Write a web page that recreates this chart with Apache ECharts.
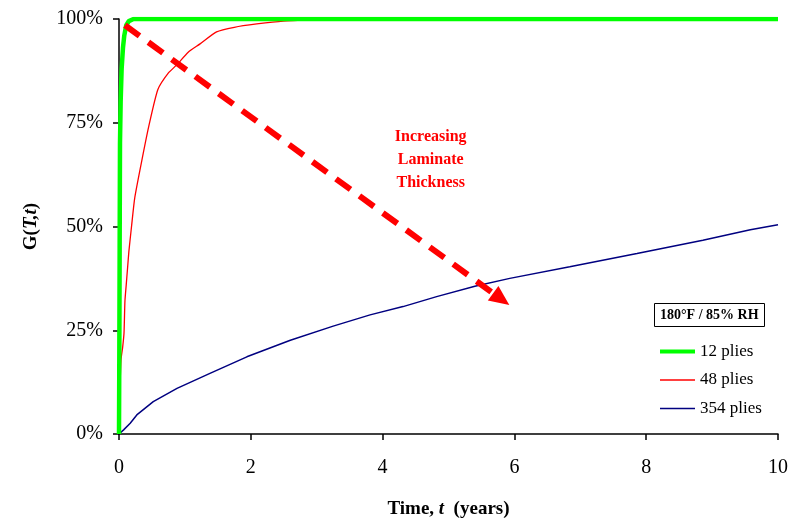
<!DOCTYPE html>
<html><head><meta charset="utf-8">
<script src="https://cdn.jsdelivr.net/npm/echarts@6/dist/echarts.min.js"></script>
<style>html,body{margin:0;padding:0;background:#fff}#c{width:791px;height:519px}</style>
</head><body><div id="c"></div>
<script>
const serif = '"Liberation Serif","Times New Roman",serif';
const yTicks = [0, 25, 50, 75, 100];
const xTicks = [0, 2, 4, 6, 8, 10];
const seriesNames = ['12 plies', '48 plies', '354 plies'];
const plies12 = [[0,0],[0.005,20],[0.01,45],[0.015,70],[0.025,80],[0.04,88],[0.06,93],[0.08,96],[0.11,98.5],[0.15,99.5],[0.22,100],[10,100]];
const plies48 = [[0,0],[0.01,8],[0.03,17.8],[0.056,21],[0.076,24.3],[0.09,32],[0.11,36],[0.13,40],[0.15,44],[0.19,50],[0.24,57],[0.36,67],[0.45,74],[0.59,83],[0.75,87],[0.88,89],[1.05,92],[1.23,94],[1.48,96.9],[1.75,98],[2.09,98.8],[2.49,99.5],[3.0,99.8],[3.5,100],[10,100]];
const plies354 = [[0,0],[0.07,1],[0.17,2.6],[0.27,4.6],[0.52,7.8],[0.88,11],[1.38,14.6],[1.94,18.6],[2.6,22.6],[3.25,26],[3.81,28.7],[4.31,30.7],[4.82,33.1],[5.4,35.6],[5.93,37.5],[6.84,40.3],[7.86,43.5],[8.86,46.7],[9.58,49.2],[10,50.4]];
const arrowStart = [0.09, 98.5];
const arrowEnd = [5.8, 32.5];
const annotation = ['Increasing', 'Laminate', 'Thickness'];
const annotationAt = [4.73, 66.0];
const boxLabel = '180°F / 85% RH';

const chart = echarts.init(document.getElementById('c'));
chart.setOption({
  animation: false,
  backgroundColor: '#fff',
  grid: {left: 119, right: 13, top: 19, bottom: 85, outerBoundsMode: 'none', containLabel: false},
  title: {
    text: boxLabel, left: 654, top: 303,
    borderColor: '#000', borderWidth: 1, padding: [5, 6, 5, 6],
    textStyle: {fontFamily: serif, fontWeight: 'bold', fontSize: 14, color: '#000'}
  },
  legend: {
    orient: 'vertical', left: 658, top: 343, padding: 0, itemWidth: 35, itemHeight: 14, itemGap: 11.5, itemTextGap: 2,
    textStyle: {fontFamily: serif, fontSize: 17, color: '#000'},
    itemStyle: {opacity: 0},
    data: [
      {name: seriesNames[0], lineStyle: {width: 4}},
      {name: seriesNames[1], lineStyle: {width: 1.3}},
      {name: seriesNames[2], lineStyle: {width: 1.5}}
    ]
  },
  xAxis: {
    type: 'value', min: 0, max: 10, interval: 2,
    axisLine: {lineStyle: {color: '#000', width: 1.5}},
    axisTick: {show: true, inside: false, length: 6, lineStyle: {color: '#000', width: 1.5}},
    axisLabel: {fontFamily: serif, fontSize: 20, color: '#000', margin: 24},
    splitLine: {show: false},
    name: '{b|Time, }{i|t}{b|  (years)}', nameLocation: 'middle', nameGap: 66,
    nameTextStyle: {rich: {
      b: {fontFamily: serif, fontWeight: 'bold', fontSize: 19, color: '#000'},
      i: {fontFamily: serif, fontWeight: 'bold', fontStyle: 'italic', fontSize: 19, color: '#000'}
    }}
  },
  yAxis: {
    type: 'value', min: 0, max: 100, interval: 25,
    axisLine: {show: true, lineStyle: {color: '#000', width: 1.5}},
    axisTick: {show: true, inside: false, length: 6, lineStyle: {color: '#000', width: 1.5}},
    axisLabel: {fontFamily: serif, fontSize: 20, color: '#000', margin: 16, formatter: '{value}%'},
    splitLine: {show: false},
    name: '{b|G(}{i|T,t}{b|)}', nameLocation: 'middle', nameGap: 78, nameRotate: 90,
    nameTextStyle: {rich: {
      b: {fontFamily: serif, fontWeight: 'bold', fontSize: 19, color: '#000'},
      i: {fontFamily: serif, fontWeight: 'bold', fontStyle: 'italic', fontSize: 19, color: '#000'}
    }}
  },
  series: [
    {name: seriesNames[2], type: 'line', data: plies354, symbol: 'none', z: 2,
     lineStyle: {color: '#000080', width: 1.5}, itemStyle: {color: '#000080'}},
    {name: seriesNames[1], type: 'line', data: plies48, symbol: 'none', z: 3, smooth: 0.2,
     lineStyle: {color: '#ff0000', width: 1.3}, itemStyle: {color: '#ff0000'}},
    {name: seriesNames[0], type: 'line', data: plies12, symbol: 'none', z: 4,
     lineStyle: {color: '#00ff00', width: 4.5}, itemStyle: {color: '#00ff00'},
     markLine: {
       silent: true, symbol: ['none', 'triangle'], symbolSize: [18, 20],
       label: {show: false},
       lineStyle: {color: '#ff0000', width: 6, type: [18, 11]},
       data: [[{coord: arrowStart}, {coord: arrowEnd}]]
     }}
  ]
});
const p = chart.convertToPixel({gridIndex: 0}, annotationAt);
chart.setOption({graphic: [{
  type: 'text', x: p[0], y: p[1], z: 10,
  style: {text: annotation.join('\n'), fontFamily: serif, fontWeight: 'bold', fontSize: 16,
          fill: '#ff0000', align: 'center', verticalAlign: 'middle', lineHeight: 23}
}]});
</script></body></html>
